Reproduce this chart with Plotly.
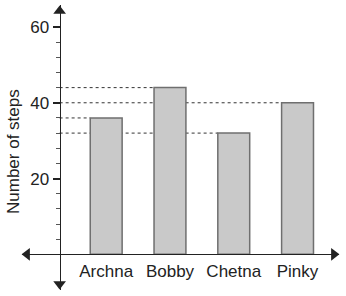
import plotly.graph_objects as go

names = ["Archna", "Bobby", "Chetna", "Pinky"]
steps = [36, 44, 32, 40]
major_ticks = [20, 40, 60]
minor_ticks = [4, 8, 12, 16, 24, 28, 32, 36, 44, 48, 52, 56]

X_MIN, X_MAX = -1.32, 3.65
Y_MIN, Y_MAX = -9.4, 65.8
Y_AXIS_X = -0.73
BAR_W = 0.5
FONT = "Liberation Sans, Arial, sans-serif"
INK = "#222222"

fig = go.Figure()
fig.add_trace(go.Bar(
    x=list(range(len(names))), y=steps, width=BAR_W,
    marker=dict(color="#c9c9c9", line=dict(color="#6f6f6f", width=1.5)),
    hoverinfo="skip", showlegend=False,
))

# dotted guide lines from y axis to each bar
shapes = []
for i, v in enumerate(steps):
    shapes.append(dict(type="line", xref="x", yref="y",
                       x0=Y_AXIS_X, x1=i - BAR_W / 2, y0=v, y1=v,
                       line=dict(color="#333333", width=1, dash="dot"), layer="below"))

# arrowheads
fig.add_trace(go.Scatter(
    x=[X_MAX - 0.08, X_MIN + 0.08], y=[0, 0], mode="markers",
    marker=dict(symbol=["triangle-right", "triangle-left"], size=11, color=INK),
    hoverinfo="skip", showlegend=False, cliponaxis=False,
))
fig.add_trace(go.Scatter(
    x=[Y_AXIS_X, Y_AXIS_X], y=[Y_MAX - 1.6, Y_MIN + 1.6], mode="markers",
    marker=dict(symbol=["triangle-up", "triangle-down"], size=11, color=INK),
    hoverinfo="skip", showlegend=False, cliponaxis=False,
))

pos_y = (Y_AXIS_X - X_MIN) / (X_MAX - X_MIN)
pos_x = (0 - Y_MIN) / (Y_MAX - Y_MIN)

fig.update_layout(
    width=346, height=296,
    margin=dict(l=22, r=7, t=5, b=6),
    paper_bgcolor="white", plot_bgcolor="white",
    font=dict(family=FONT, color=INK),
    shapes=shapes,
    xaxis=dict(range=[X_MIN, X_MAX], anchor="free", position=pos_x,
               tickmode="array", tickvals=list(range(len(names))), ticktext=names,
               showline=True, linecolor=INK, linewidth=1.2,
               ticks="outside", ticklen=1, tickcolor="rgba(0,0,0,0)",
               tickfont=dict(size=17, family=FONT, color=INK),
               showgrid=False, zeroline=False),
    yaxis=dict(range=[Y_MIN, Y_MAX], anchor="free", position=pos_y,
               tickmode="array", tickvals=major_ticks,
               showline=True, linecolor=INK, linewidth=1.2,
               ticks="outside", ticklen=7, tickwidth=1.5, tickcolor=INK,
               tickfont=dict(size=17, family=FONT, color=INK),
               minor=dict(tickmode="array", tickvals=minor_ticks, ticks="outside",
                          ticklen=4, tickwidth=1, tickcolor="#555555"),
               showgrid=False, zeroline=False),
    annotations=[dict(text="Number of steps", xref="paper", yref="paper",
                      x=(13 - 22) / 317, y=(290 - 152) / 285, textangle=-90,
                      showarrow=False, xanchor="center", yanchor="middle",
                      font=dict(size=17, family=FONT, color=INK))],
)

fig.write_html("out.html")
